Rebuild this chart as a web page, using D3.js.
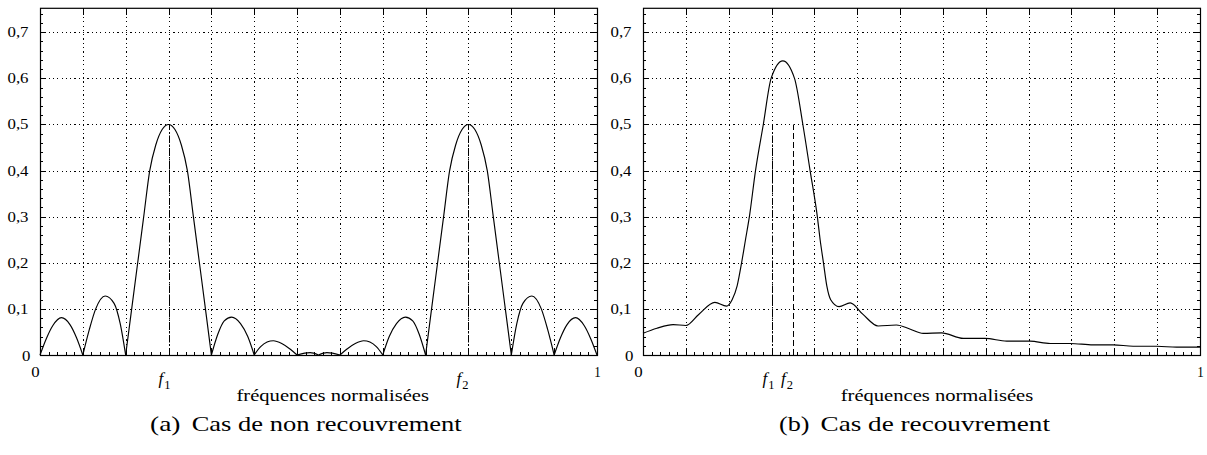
<!DOCTYPE html>
<html><head><meta charset="utf-8">
<script src="https://cdn.jsdelivr.net/npm/d3@7"></script>
<style>
body{margin:0;background:#fff}
svg{display:block;background:#fff}
</style>
</head><body>
<svg id="c" width="1207" height="455"></svg>
<script>
// ---------- data ----------
const yTickValues = [0, 0.1, 0.2, 0.3, 0.4, 0.5, 0.6, 0.7];
const yTickLabels = ["0", "0,1", "0,2", "0,3", "0,4", "0,5", "0,6", "0,7"];
const xGridValues = [0.0769, 0.1538, 0.2308, 0.3077, 0.3846, 0.4615, 0.5385, 0.6154, 0.6923, 0.7692, 0.8462, 0.9231];
const xEndLabels = ["0", "1"];
const xAxisTitle = "fréquences normalisées";

// (a) non-overlapping case
const leftFreq = [
  0, 0.0115, 0.0231, 0.0385, 0.0538, 0.0654, 0.0769,
  0.0885, 0.1000, 0.1170, 0.1330, 0.1440, 0.1538,
  0.1646, 0.1754, 0.1862, 0.1970, 0.2077, 0.2193, 0.2308, 0.2423, 0.2539, 0.2646, 0.2754, 0.2862, 0.2970, 0.3077,
  0.3192, 0.3308, 0.3440, 0.3600, 0.3730, 0.3846,
  0.3962, 0.4077, 0.4190, 0.4340, 0.4500, 0.4615,
  0.4750, 0.4850, 0.5000, 0.5150, 0.5250, 0.5385,
  0.5500, 0.5660, 0.5810, 0.5923, 0.6038, 0.6154,
  0.6270, 0.6400, 0.6560, 0.6692, 0.6808, 0.6923,
  0.7030, 0.7138, 0.7246, 0.7354, 0.7461, 0.7577, 0.7692, 0.7807, 0.7923, 0.8030, 0.8138, 0.8246, 0.8354, 0.8462,
  0.8560, 0.8670, 0.8830, 0.9000, 0.9115, 0.9231,
  0.9346, 0.9462, 0.9615, 0.9769, 0.9885, 1.0
];
const leftMag = [
  0, 0.036, 0.064, 0.081, 0.066, 0.038, 0,
  0.055, 0.100, 0.128, 0.112, 0.068, 0,
  0.100, 0.200, 0.300, 0.400, 0.455, 0.489, 0.500, 0.489, 0.455, 0.400, 0.300, 0.200, 0.100, 0,
  0.045, 0.074, 0.082, 0.068, 0.040, 0,
  0.018, 0.028, 0.031, 0.025, 0.012, 0,
  0.004, 0.005, 0, 0.005, 0.004, 0,
  0.012, 0.025, 0.031, 0.028, 0.018, 0,
  0.040, 0.068, 0.082, 0.074, 0.045, 0,
  0.100, 0.200, 0.300, 0.400, 0.455, 0.489, 0.500, 0.489, 0.455, 0.400, 0.300, 0.200, 0.100, 0,
  0.068, 0.112, 0.128, 0.100, 0.055, 0,
  0.038, 0.066, 0.081, 0.064, 0.036, 0
];
const leftMarkers = [0.2308, 0.7692];
const leftMarkerLabels = ["1", "2"];

// (b) overlapping case
const rightFreq = [
  0.000, 0.025, 0.054, 0.077, 0.100, 0.129, 0.150, 0.160, 0.169, 0.177, 0.184, 0.191,
  0.202, 0.216, 0.230, 0.251, 0.272, 0.287, 0.300, 0.313, 0.318, 0.324, 0.330, 0.337,
  0.352, 0.372, 0.395, 0.422, 0.455, 0.480, 0.503, 0.536, 0.575, 0.614, 0.653, 0.695,
  0.731, 0.767, 0.808, 0.844, 0.880, 0.922, 0.958, 1.000
];
const rightMag = [
  0.047, 0.058, 0.066, 0.064, 0.088, 0.114, 0.106, 0.120, 0.150, 0.200, 0.250, 0.300,
  0.400, 0.500, 0.600, 0.638, 0.600, 0.500, 0.400, 0.300, 0.250, 0.200, 0.150, 0.120,
  0.105, 0.113, 0.088, 0.063, 0.065, 0.056, 0.047, 0.048, 0.036, 0.036, 0.030, 0.030,
  0.025, 0.025, 0.022, 0.022, 0.019, 0.019, 0.017, 0.017
];
const rightMarkers = [0.2308, 0.2692];
const markerTop = 0.5;

const captions = [["(a)", "Cas de non recouvrement"], ["(b)", "Cas de recouvrement"]];

// ---------- drawing ----------
const FONT = '"Liberation Serif", "Times New Roman", Tinos, serif';
const svg = d3.select("#c");
const Y0 = 355, YT = 8.3, YMAX = 0.752;

function stretchText(g, x, y, str, size, width, anchor) {
  const t = g.append("text").attr("x", x).attr("y", y)
    .style("font-family", FONT).attr("fill", "#000")
    .attr("font-size", size).attr("text-anchor", anchor || "start").text(str);
  if (width) t.attr("textLength", width).attr("lengthAdjust", "spacingAndGlyphs");
  return t;
}

function panel(cfg) {
  const g = svg.append("g");
  const x = d3.scaleLinear().domain([0, 1]).range([cfg.x0, cfg.x1]);
  const y = d3.scaleLinear().domain([0, YMAX]).range([Y0, YT]);

  // grid
  const grid = g.append("g").attr("stroke", "#000").attr("stroke-width", 1)
    .attr("stroke-dasharray", "1.2,3.1").attr("shape-rendering", "crispEdges");
  grid.selectAll("line.v").data(xGridValues).join("line").attr("class", "v")
    .attr("x1", d => Math.round(x(d)) + 0.5).attr("x2", d => Math.round(x(d)) + 0.5)
    .attr("y1", y(YMAX)).attr("y2", y(0));
  grid.selectAll("line.h").data(yTickValues.slice(1)).join("line").attr("class", "h")
    .attr("y1", d => Math.round(y(d)) + 0.5).attr("y2", d => Math.round(y(d)) + 0.5)
    .attr("x1", x(0)).attr("x2", x(1));

  // ticks via d3 axes (inward)
  const minorX = d3.range(1, 65).map(k => k / 65);
  const minorY = d3.range(1, 38).map(k => k * 0.02);
  function axisG(axis, tr) {
    const a = g.append("g").attr("transform", tr).call(axis);
    a.select(".domain").remove();
    a.selectAll("text").remove();
    a.selectAll("line").attr("stroke", "#000").attr("shape-rendering", "crispEdges");
    return a;
  }
  axisG(d3.axisBottom(x).tickValues(xGridValues).tickSize(-6), `translate(0,${Y0})`);
  axisG(d3.axisBottom(x).tickValues(minorX).tickSize(-3), `translate(0,${Y0})`);
  axisG(d3.axisTop(x).tickValues(xGridValues).tickSize(-7), `translate(0,${YT})`);
  axisG(d3.axisLeft(y).tickValues(yTickValues.slice(1)).tickSize(-6), `translate(${cfg.x0},0)`);
  axisG(d3.axisLeft(y).tickValues(minorY).tickSize(-3), `translate(${cfg.x0},0)`);
  axisG(d3.axisRight(y).tickValues(yTickValues.slice(1)).tickSize(-6), `translate(${cfg.x1},0)`);
  axisG(d3.axisRight(y).tickValues(minorY).tickSize(-3), `translate(${cfg.x1},0)`);

  // frame
  g.append("rect").attr("x", cfg.x0 + 0.5).attr("y", YT).attr("width", cfg.x1 - cfg.x0).attr("height", Y0 - YT + 0.5)
    .attr("fill", "none").attr("stroke", "#000").attr("stroke-width", 1.2);

  // markers
  cfg.markers.forEach((m, i) => {
    g.append("line").attr("x1", Math.round(x(m)) + 0.5).attr("x2", Math.round(x(m)) + 0.5)
      .attr("y1", y(0)).attr("y2", y(markerTop))
      .attr("stroke", "#000").attr("stroke-width", 1)
      .attr("stroke-dasharray", cfg.dash[i]);
  });

  // curve
  const pts = cfg.freq.map((f, i) => [f, cfg.mag[i]]);
  const line = d3.line().x(d => x(d[0])).y(d => y(d[1])).curve(d3.curveMonotoneX);
  let segs = [];
  if (cfg.split) {
    let cur = [pts[0]];
    for (let i = 1; i < pts.length; i++) {
      cur.push(pts[i]);
      if (pts[i][1] === 0 && i < pts.length - 1) { segs.push(cur); cur = [pts[i]]; }
    }
    segs.push(cur);
  } else segs = [pts];
  g.selectAll("path.curve").data(segs).join("path").attr("class", "curve")
    .attr("d", line).attr("fill", "none").attr("stroke", "#000").attr("stroke-width", 1.15);

  // y labels
  yTickValues.forEach((v, i) => {
    const lab = yTickLabels[i];
    stretchText(g, cfg.x0 - (i === 0 ? 9.5 : 11.5), y(v) + (i === 0 ? 5.5 : 5), lab, 15, lab.length === 1 ? 8.4 : 21, "end");
  });
  // x end labels
  stretchText(g, cfg.x0 - 4.5, 376.7, xEndLabels[0], 15, 8.4, "middle");
  stretchText(g, cfg.x1 + 0.5, 376.7, xEndLabels[1], 15, 6.5, "middle");

  // f labels
  cfg.fLabels.forEach((fx, i) => {
    const t = g.append("text").attr("x", fx).attr("y", 384).attr("font-size", 17)
      .style("font-family", FONT).attr("fill", "#000");
    t.append("tspan").attr("font-style", "italic").text("f");
    t.append("tspan").attr("font-size", 12.5).attr("dy", 4.5).attr("dx", 1).text(cfg.fSub[i]);
  });

  // axis title
  stretchText(g, cfg.titleX, 400.5, xAxisTitle, 16.5, 192.5, "start");

  // caption
  stretchText(g, cfg.capX[0], 431, cfg.caption[0], 21, 30.5, "start");
  stretchText(g, cfg.capX[1], 431, cfg.caption[1], 21, cfg.capW, "start");
}

panel({
  x0: 40, x1: 597, freq: leftFreq, mag: leftMag, split: true,
  markers: leftMarkers, dash: ["7,2,1.5,2", "7,2,1.5,2"],
  fLabels: [158.5, 456.5], fSub: leftMarkerLabels,
  titleX: 236.5, caption: captions[0], capX: [150, 191.7], capW: 270
});
panel({
  x0: 643, x1: 1200, freq: rightFreq, mag: rightMag, split: false,
  markers: rightMarkers, dash: ["7,2,1.5,2", "6,3"],
  fLabels: [762.5, 781], fSub: ["1", "2"],
  titleX: 840.7, caption: captions[1], capX: [779, 820.5], capW: 229.5
});
</script>
</body></html>
